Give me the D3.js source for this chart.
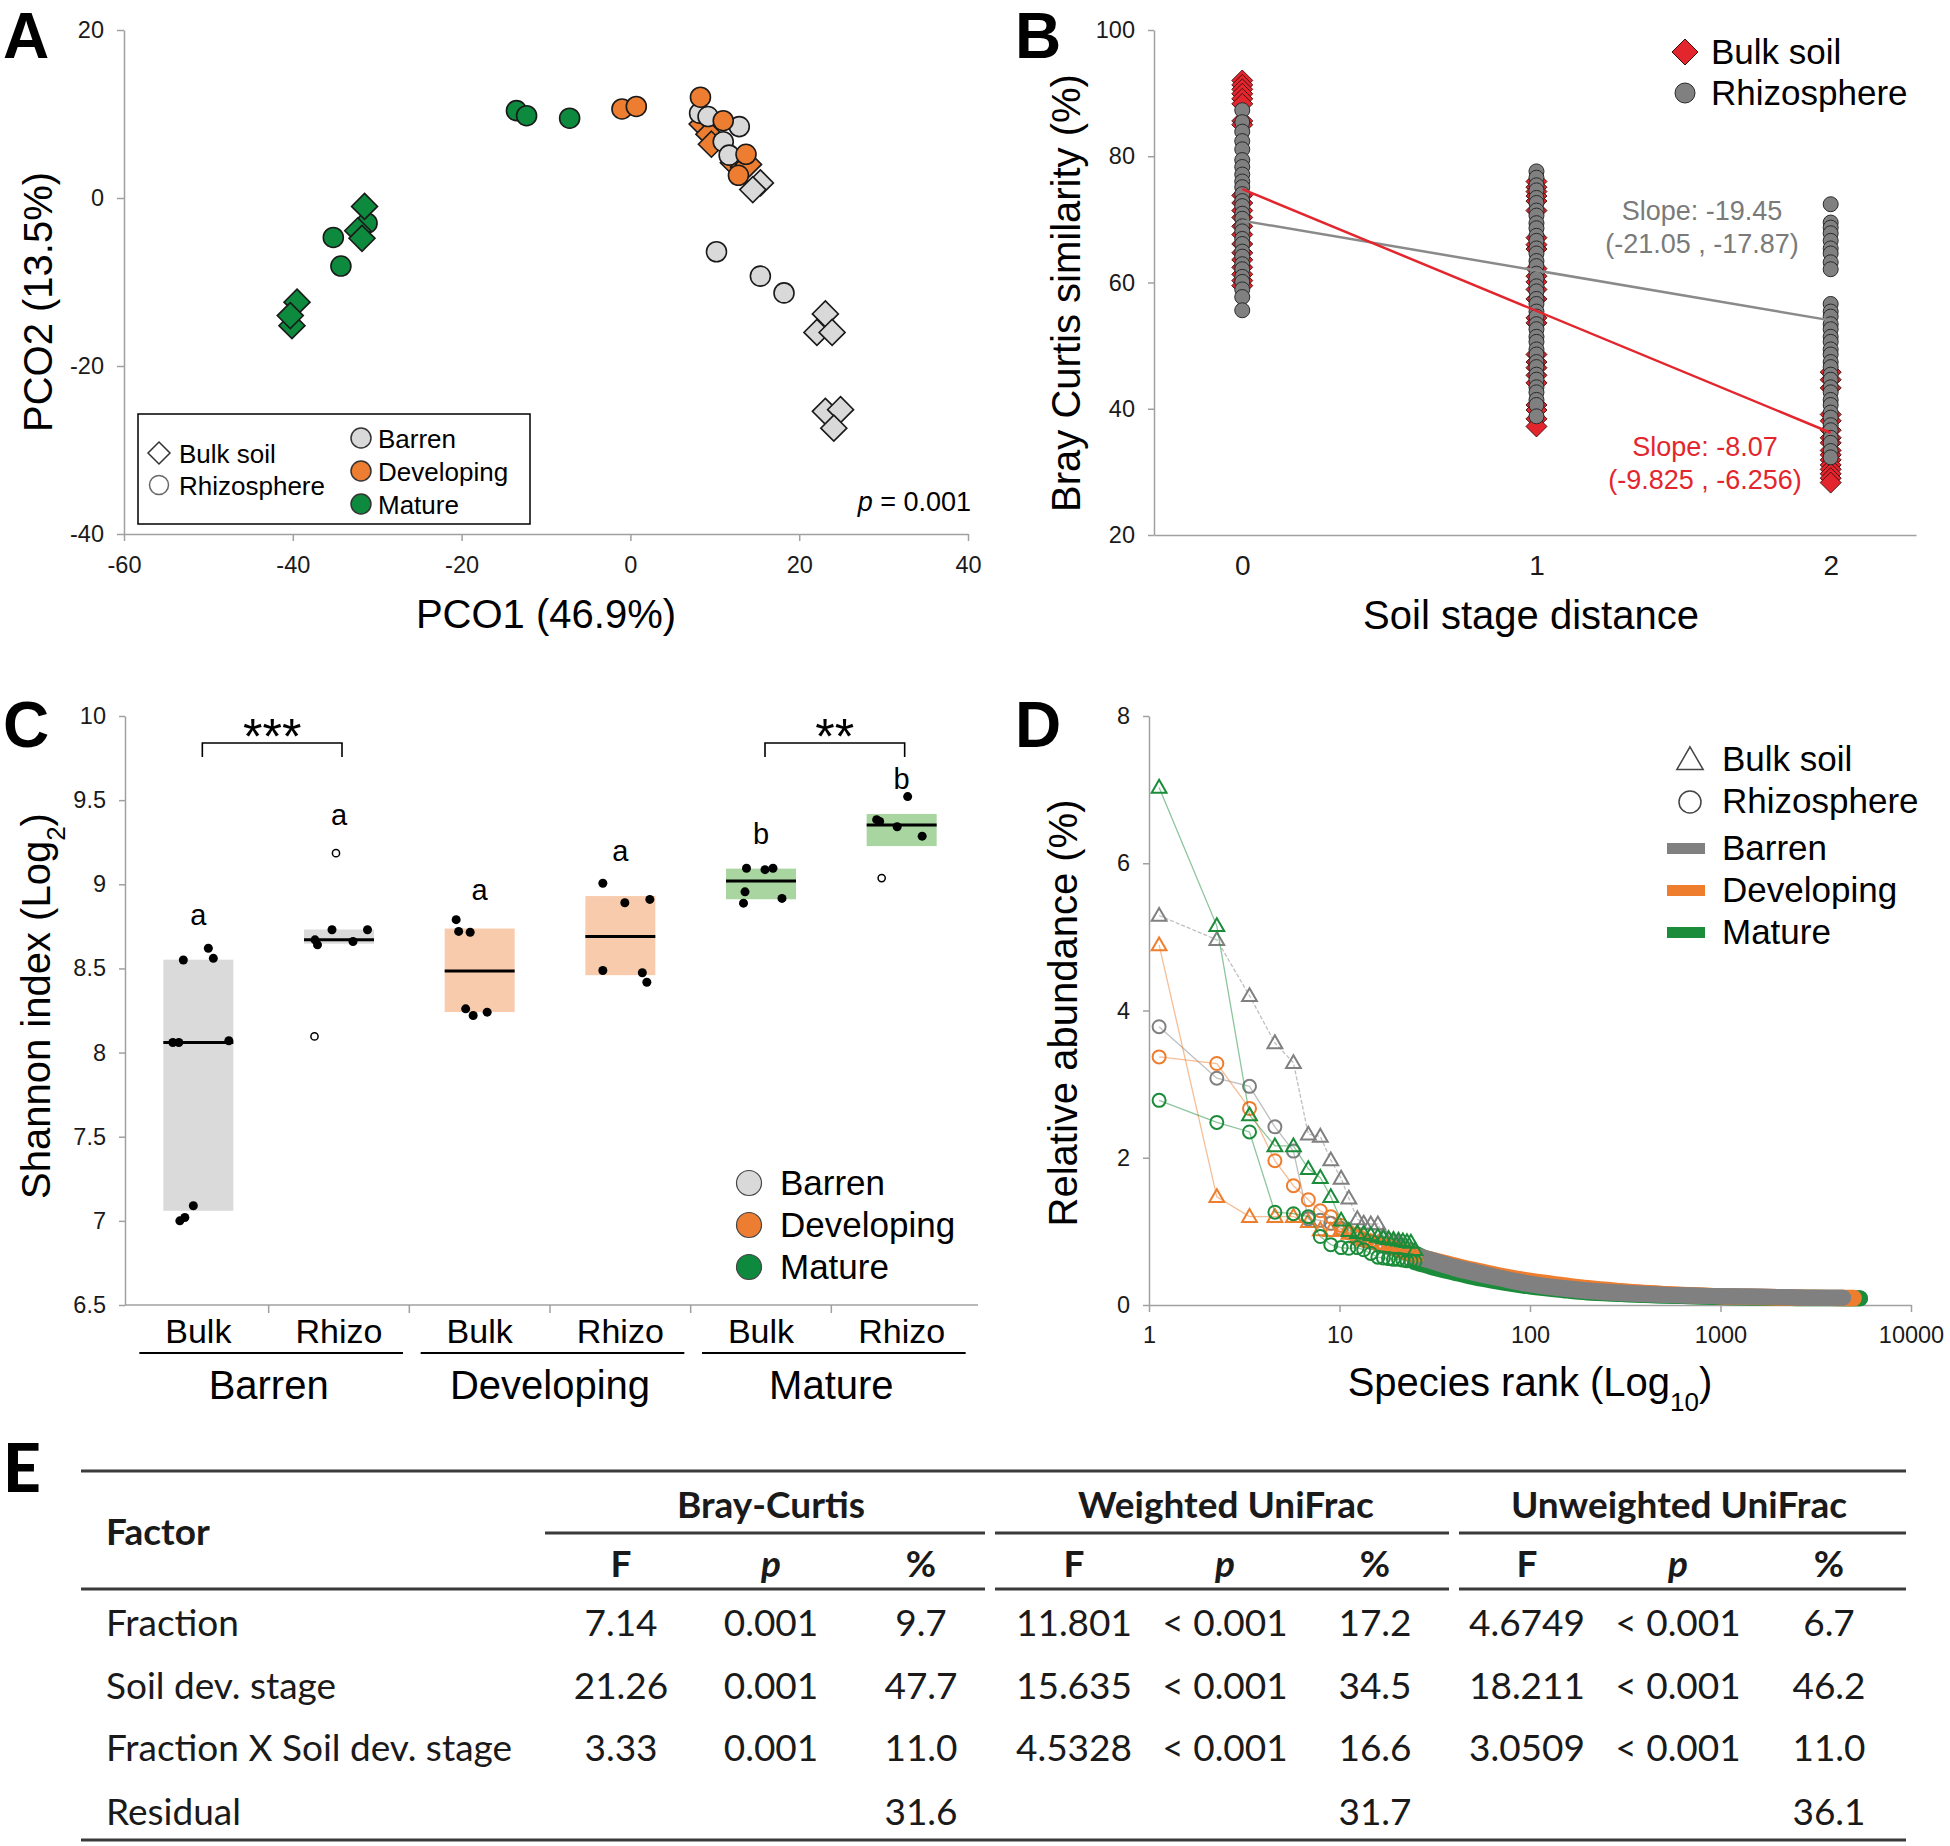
<!DOCTYPE html>
<html><head><meta charset="utf-8">
<script src="https://cdn.jsdelivr.net/npm/d3@7"></script>
<style>body{margin:0;background:#fff}</style>
</head><body>
<script>
// ================= DATA =================
// ---- Panel A : PCO ordination ----
const pcoTicksX = [-60, -40, -20, 0, 20, 40];
const pcoTicksY = [-40, -20, 0, 20];
const pcoBarrenBulk  = [[15.4,1.8],[14.5,1.0],[23.1,-13.8],[22.1,-16.0],[23.9,-16.0],[23.1,-25.4],[24.9,-25.2],[24.1,-27.4]];
const pcoBarrenRhizo = [[8.2,10.1],[9.2,9.7],[12.9,8.5],[11.0,6.7],[11.7,5.1],[10.2,-6.4],[15.4,-9.3],[18.2,-11.3]];
const pcoDevBulk     = [[8.5,8.8],[9.3,7.6],[9.6,6.4],[12.2,4.2],[13.4,3.7],[14.0,4.0]];
const pcoDevRhizo    = [[-1.0,10.6],[0.7,10.9],[8.3,12.0],[11.0,9.2],[13.7,5.2],[12.8,2.7]];
const pcoMatBulk     = [[-31.5,-1.0],[-32.3,-3.9],[-31.8,-4.8],[-39.5,-12.4],[-40.1,-15.2],[-40.3,-14.0]];
const pcoMatRhizo    = [[-13.5,10.4],[-12.3,9.8],[-7.2,9.5],[-35.2,-4.7],[-34.3,-8.1],[-31.2,-3.0]];

// ---- Panel B : Bray Curtis similarity vs soil stage distance ----
const bcTicksY = [20, 40, 60, 80, 100];
const bcTicksX = [0, 1, 2];
const bcBulk0 = [92.0,91.3,90.6,89.9,89.1,88.3,85.6,85.0,73.8,72.6,71.4,70.3,68.9,67.6,66.1,64.7,63.6,62.4,61.3,60.3,59.5];
const bcBulk1 = [76.0,75.1,74.4,73.7,72.9,71.4,67.1,66.0,65.3,62.2,61.0,60.1,58.9,57.4,54.4,53.6,48.6,47.4,46.5,45.3,44.1,40.6,39.8,38.4,37.2];
const bcBulk2 = [45.8,44.6,43.3,39.1,38.1,36.6,35.4,34.6,33.4,32.7,31.9,31.1,30.4,29.7,29.0,28.3];
const bcRhizo0 = [87.3,85.4,83.9,82.4,81.1,79.4,78.3,77.1,76.0,75.1,74.0,72.9,72.1,70.9,70.1,68.9,68.1,66.9,66.1,64.9,64.1,62.9,62.1,60.9,60.1,58.9,57.7,55.6];
const bcRhizo1 = [77.6,76.6,75.4,74.6,73.4,72.6,71.4,70.6,69.4,68.6,67.4,66.6,65.4,64.6,63.4,62.6,61.4,60.6,59.4,58.6,57.4,56.6,55.4,54.6,53.4,52.6,51.4,50.6,49.4,48.6,47.4,46.6,45.4,44.6,43.4,42.6,41.4,40.6,38.8];
const bcRhizo2 = [72.4,69.5,68.7,67.8,66.6,65.4,64.6,63.2,62.1,56.6,55.4,54.6,53.4,52.6,51.4,50.6,49.4,48.6,47.4,46.6,45.4,44.6,43.4,42.6,41.4,40.6,39.4,38.6,37.4,36.6,35.4,34.6,33.3,32.3];
const bcFitBulk  = [74.8, 36.2];   // fitted value at distance 0 and 2
const bcFitRhizo = [69.8, 54.0];
const bcSlopeRhizo = ["Slope: -19.45", "(-21.05 , -17.87)"];
const bcSlopeBulk  = ["Slope: -8.07", "(-9.825 , -6.256)"];

// ---- Panel C : Shannon index ----
const stages = ["Barren", "Developing", "Mature"];
const fractions = ["Bulk", "Rhizo"];
const shCats = ["Barren-Bulk","Barren-Rhizo","Developing-Bulk","Developing-Rhizo","Mature-Bulk","Mature-Rhizo"];
const shTicks = [6.5, 7, 7.5, 8, 8.5, 9, 9.5, 10];
const shLow    = [7.06, 8.647, 8.241, 8.46, 8.911, 9.227];
const shHigh   = [8.552, 8.731, 8.737, 8.93, 9.093, 9.418];
const shMedian = [8.06, 8.67, 8.485, 8.69, 9.02, 9.353];
const shLetters = ["a", "a", "a", "a", "b", "b"];
const shLetterY = [8.76, 9.35, 8.905, 9.14, 9.24, 9.566];
const shPoints = [
  [8.55, 8.62, 8.56, 8.06, 8.06, 8.07, 7.09, 7.02, 7.0],
  [8.73, 8.73, 8.67, 8.64, 8.66],
  [8.79, 8.72, 8.715, 8.26, 8.22, 8.24],
  [9.006, 8.89, 8.91, 8.488, 8.474, 8.418],
  [9.095, 9.087, 9.095, 8.955, 8.916, 8.888],
  [9.521, 9.384, 9.373, 9.342, 9.286]
];
const shJitter = [
  [-15, 10, 15, -25.5, -19.5, 30.5, -5, -13.5, -18.5],
  [-7, 28.5, -24, -21.5, 14],
  [-23.5, -21, -9.5, -14, -6.5, 7.5],
  [-17.5, 4.5, 29.5, -17.5, 22, 26.5],
  [-14.5, 4, 12, -16, 21, -17.5],
  [6, -25, -22, -4.5, 20.5]
];
const shOutliers = [[], [9.185, 8.096], [], [], [], [9.037]];
const shOutJitter = [[], [-3, -24.5], [], [], [], [-20]];
const shBrackets = [{from: 0, to: 1, label: "***"}, {from: 4, to: 5, label: "**"}];
const shBracketY = [9.84, 9.756];

// ---- Panel D : rank abundance ----
const rankTicks = [1, 10, 100, 1000, 10000];
const abTicks = [0, 2, 4, 6, 8];
const rankPos = [1.13,2.27,3.37,4.58,5.73,6.86,7.93,9.0,10.2,11.2,12.4,13.4,14.6,15.9,17.0,18.1,19.2,20.4,21.5,22.6,23.7,24.9];
const abBarrenBulk  = [5.29,4.96,4.20,3.56,3.29,2.32,2.29,1.97,1.72,1.45,1.17,1.11,1.10,1.10,0.95,0.90,0.86,0.83,0.80,0.78,0.75,0.72];
const abBarrenRhizo = [3.78,3.08,2.97,2.42,2.09,1.17,1.15,1.11,1.04,0.98,0.92,0.88,0.85,0.82,0.80,0.78,0.76,0.74,0.72,0.70,0.68,0.66];
const abDevBulk     = [4.89,1.47,1.20,1.20,1.20,1.13,1.02,1.01,1.03,0.97,0.92,0.88,0.86,0.84,0.82,0.80,0.78,0.76,0.74,0.72,0.70,0.68];
const abDevRhizo    = [3.37,3.28,2.67,1.96,1.62,1.43,1.28,1.20,1.08,0.99,0.95,0.90,0.87,0.84,0.81,0.79,0.77,0.75,0.73,0.71,0.69,0.67];
const abMatBulk     = [7.03,5.15,2.58,2.16,2.16,1.85,1.73,1.47,1.15,1.01,0.98,0.97,0.95,0.93,0.91,0.90,0.89,0.88,0.87,0.86,0.85,0.75];
const abMatRhizo    = [2.78,2.48,2.35,1.26,1.24,1.20,0.93,0.82,0.78,0.77,0.78,0.75,0.70,0.65,0.64,0.63,0.62,0.62,0.61,0.60,0.60,0.59];
const tailRanksBarren = [24.9,30,40,50,70,100,150,200,300,500,1000,2000,3000,4400];
const tailRanksDev    = [24.9,30,40,50,70,100,150,200,300,500,1000,2000,3000,5000];
const tailRanksMat    = [24.9,30,40,50,70,100,150,200,300,500,1000,2000,3000,5400];
const tailBarrenBulk  = [0.68,0.62,0.52,0.46,0.37,0.29,0.23,0.20,0.17,0.14,0.12,0.11,0.10,0.10];
const tailBarrenRhizo = [0.66,0.60,0.50,0.44,0.36,0.28,0.22,0.19,0.16,0.14,0.12,0.11,0.10,0.10];
const tailDevBulk     = [0.67,0.62,0.54,0.48,0.40,0.33,0.27,0.23,0.19,0.15,0.12,0.11,0.10,0.10];
const tailDevRhizo    = [0.66,0.61,0.53,0.47,0.39,0.32,0.26,0.22,0.18,0.15,0.12,0.10,0.10,0.09];
const tailMatBulk     = [0.70,0.60,0.48,0.40,0.32,0.26,0.21,0.18,0.15,0.13,0.11,0.10,0.10,0.09];
const tailMatRhizo    = [0.58,0.52,0.44,0.38,0.31,0.25,0.20,0.17,0.15,0.13,0.11,0.10,0.09,0.09];

// ---- Panel E : PERMANOVA table ----
const tblMetrics = ["Bray-Curtis", "Weighted UniFrac", "Unweighted UniFrac"];
const tblSubCols = ["F", "p", "%"];
const tblFactors = ["Fraction", "Soil dev. stage", "Fraction X Soil dev. stage", "Residual"];
const tblBrayCurtis = [["7.14","0.001","9.7"],["21.26","0.001","47.7"],["3.33","0.001","11.0"],["","","31.6"]];
const tblWeighted   = [["11.801","< 0.001","17.2"],["15.635","< 0.001","34.5"],["4.5328","< 0.001","16.6"],["","","31.7"]];
const tblUnweighted = [["4.6749","< 0.001","6.7"],["18.211","< 0.001","46.2"],["3.0509","< 0.001","11.0"],["","","36.1"]];

// ================= STYLE =================
const SANS = "'Liberation Sans', Arial, Helvetica, sans-serif";
const TAB = "Lato, 'Open Sans', sans-serif";
const C_BAR = "#d9d9d9", C_DEV = "#ed7d31", C_MAT = "#0d8a3e";
const C_BAR_D = "#808080", C_DEV_D = "#ee7d2d", C_MAT_D = "#1b8c3a";
const AX = "#a0a0a0";
const plain = d => String(d);

const svg = d3.select("body").append("svg").attr("width", 1950).attr("height", 1846)
  .attr("font-family", SANS);
svg.append("rect").attr("width", 1950).attr("height", 1846).attr("fill", "#fff");

function styleAxis(g, fs) {
  g.attr("font-family", SANS).attr("font-size", fs || 23.5);
  g.select(".domain").attr("stroke", AX).attr("stroke-width", 1.5);
  g.selectAll(".tick line").attr("stroke", AX).attr("stroke-width", 1.5);
  g.selectAll(".tick text").attr("fill", "#1a1a1a");
}
const diamond = s => `M0,${-s}L${s},0L0,${s}L${-s},0Z`;
function panelLetter(t, x, y) {
  svg.append("text").attr("x", x).attr("y", y).text(t)
    .attr("font-size", 64).attr("font-weight", "bold").attr("fill", "#000");
}
function vTitle(x, y, parts, fs) {
  const t = svg.append("text").attr("transform", `translate(${x},${y}) rotate(-90)`)
    .attr("text-anchor", "middle").attr("font-size", fs).attr("fill", "#000");
  parts.forEach(p => {
    const s = t.append("tspan").text(p.t);
    if (p.sub) s.attr("font-size", fs * 0.65).attr("baseline-shift", "sub");
  });
  return t;
}
function hTitle(x, y, parts, fs) {
  const t = svg.append("text").attr("x", x).attr("y", y)
    .attr("text-anchor", "middle").attr("font-size", fs).attr("fill", "#000");
  parts.forEach(p => {
    const s = t.append("tspan").text(p.t);
    if (p.sub) s.attr("font-size", fs * 0.65).attr("baseline-shift", "sub");
  });
  return t;
}

// ================= PANEL A =================
{
  const x = d3.scaleLinear().domain([-60, 40]).range([124, 968]);
  const y = d3.scaleLinear().domain([-40, 20]).range([534, 30]);
  svg.append("g").attr("transform", "translate(124,0)")
    .call(d3.axisLeft(y).tickValues(pcoTicksY).tickFormat(plain).tickSize(7).tickSizeOuter(0).tickPadding(13)).call(styleAxis);
  svg.append("g").attr("transform", "translate(0,534)")
    .call(d3.axisBottom(x).tickValues(pcoTicksX).tickFormat(plain).tickSize(7).tickSizeOuter(0).tickPadding(15)).call(styleAxis);

  const groups = [
    {d: pcoMatRhizo, shape: "c", fill: C_MAT},
    {d: pcoMatBulk, shape: "d", fill: C_MAT},
    {d: pcoBarrenBulk, shape: "d", fill: C_BAR},
    {d: pcoDevBulk, shape: "d", fill: C_DEV},
    {d: pcoBarrenRhizo, shape: "c", fill: C_BAR},
    {d: pcoDevRhizo, shape: "c", fill: C_DEV}
  ];
  const gp = svg.append("g");
  groups.forEach(gr => {
    gr.d.forEach(p => {
      if (gr.shape === "c") {
        gp.append("circle").attr("cx", x(p[0])).attr("cy", y(p[1])).attr("r", 10)
          .attr("fill", gr.fill).attr("stroke", "#1a1a1a").attr("stroke-width", 1.6);
      } else {
        gp.append("path").attr("d", diamond(13)).attr("transform", `translate(${x(p[0])},${y(p[1])})`)
          .attr("fill", gr.fill).attr("stroke", "#1a1a1a").attr("stroke-width", 1.6);
      }
    });
  });
  // legend
  const lg = svg.append("g");
  lg.append("rect").attr("x", 138).attr("y", 414).attr("width", 392).attr("height", 110)
    .attr("fill", "#fff").attr("stroke", "#000").attr("stroke-width", 1.5);
  lg.append("path").attr("d", diamond(11)).attr("transform", "translate(159,453)")
    .attr("fill", "#fff").attr("stroke", "#333").attr("stroke-width", 1.5);
  lg.append("circle").attr("cx", 159).attr("cy", 485).attr("r", 9.5)
    .attr("fill", "#fff").attr("stroke", "#666").attr("stroke-width", 1.5);
  lg.append("text").attr("x", 179).attr("y", 454).attr("dy", "0.35em").attr("font-size", 26).text("Bulk soil");
  lg.append("text").attr("x", 179).attr("y", 486).attr("dy", "0.35em").attr("font-size", 26).text("Rhizosphere");
  [[C_BAR, "Barren"], [C_DEV, "Developing"], [C_MAT, "Mature"]].forEach((s, i) => {
    lg.append("circle").attr("cx", 361).attr("cy", 438 + i * 33).attr("r", 10)
      .attr("fill", s[0]).attr("stroke", "#333").attr("stroke-width", 1.5);
    lg.append("text").attr("x", 378).attr("y", 439 + i * 33).attr("dy", "0.35em").attr("font-size", 26).text(s[1]);
  });
  const pt = svg.append("text").attr("x", 971).attr("y", 511).attr("text-anchor", "end").attr("font-size", 27);
  pt.append("tspan").attr("font-style", "italic").text("p");
  pt.append("tspan").text(" = 0.001");

  vTitle(52, 302, [{t: "PCO2 (13.5%)"}], 40);
  hTitle(546, 628, [{t: "PCO1 (46.9%)"}], 40);
  panelLetter("A", 3, 58);
}

// ================= PANEL B =================
{
  const x = d3.scaleLinear().domain([-0.3, 2.29]).range([1154, 1916]);
  const y = d3.scaleLinear().domain([20, 100]).range([535, 30]);
  svg.append("g").attr("transform", "translate(1154,0)")
    .call(d3.axisLeft(y).tickValues(bcTicksY).tickFormat(plain).tickSize(6).tickSizeOuter(0).tickPadding(13)).call(styleAxis);
  svg.append("g").attr("transform", "translate(0,535)")
    .call(d3.axisBottom(x).tickValues(bcTicksX).tickFormat(plain).tickSize(0).tickSizeOuter(0).tickPadding(20)).call(g => styleAxis(g, 28));

  const gp = svg.append("g");
  [bcBulk0, bcBulk1, bcBulk2].forEach((col, i) => {
    col.forEach(v => gp.append("path").attr("d", diamond(10.5))
      .attr("transform", `translate(${x(i)},${y(v)})`)
      .attr("fill", "#e3262d").attr("stroke", "#3b0a0a").attr("stroke-width", 0.9));
  });
  [bcRhizo0, bcRhizo1, bcRhizo2].forEach((col, i) => {
    col.forEach(v => gp.append("circle").attr("cx", x(i)).attr("cy", y(v)).attr("r", 7.5)
      .attr("fill", "#808080").attr("stroke", "#2a2a2a").attr("stroke-width", 1));
  });
  svg.append("line").attr("x1", x(0)).attr("x2", x(2)).attr("y1", y(bcFitRhizo[0])).attr("y2", y(bcFitRhizo[1]))
    .attr("stroke", "#8a8a8a").attr("stroke-width", 2.5);
  svg.append("line").attr("x1", x(0)).attr("x2", x(2)).attr("y1", y(bcFitBulk[0])).attr("y2", y(bcFitBulk[1]))
    .attr("stroke", "#e3262d").attr("stroke-width", 2.5);

  bcSlopeRhizo.forEach((t, i) => svg.append("text").attr("x", 1702).attr("y", 220 + i * 33)
    .attr("text-anchor", "middle").attr("font-size", 27).attr("fill", "#7a7a7a").text(t));
  bcSlopeBulk.forEach((t, i) => svg.append("text").attr("x", 1705).attr("y", 456 + i * 33)
    .attr("text-anchor", "middle").attr("font-size", 27).attr("fill", "#e3262d").text(t));

  svg.append("path").attr("d", diamond(13)).attr("transform", "translate(1685,52)")
    .attr("fill", "#e3262d").attr("stroke", "#3b0a0a").attr("stroke-width", 1);
  svg.append("circle").attr("cx", 1685).attr("cy", 93).attr("r", 10)
    .attr("fill", "#808080").attr("stroke", "#2a2a2a").attr("stroke-width", 1);
  svg.append("text").attr("x", 1711).attr("y", 52).attr("dy", "0.35em").attr("font-size", 35).text("Bulk soil");
  svg.append("text").attr("x", 1711).attr("y", 93).attr("dy", "0.35em").attr("font-size", 35).text("Rhizosphere");

  vTitle(1080, 293, [{t: "Bray Curtis similarity (%)"}], 40);
  hTitle(1531, 629, [{t: "Soil stage distance"}], 40);
  panelLetter("B", 1015, 58);
}

// ================= PANEL C =================
{
  const x = d3.scaleBand().domain(shCats).range([128, 972]);
  const y = d3.scaleLinear().domain([6.5, 10]).range([1305, 716]);
  const cx = i => x(shCats[i]) + x.bandwidth() / 2;
  svg.append("g").attr("transform", "translate(125,0)")
    .call(d3.axisLeft(y).tickValues(shTicks).tickFormat(plain).tickSize(6).tickSizeOuter(0).tickPadding(13)).call(styleAxis);
  const base = svg.append("g");
  base.append("line").attr("x1", 125).attr("x2", 978).attr("y1", 1305).attr("y2", 1305).attr("stroke", AX).attr("stroke-width", 1.5);
  shCats.forEach((c, i) => {
    if (i > 0) base.append("line").attr("x1", x(c)).attr("x2", x(c)).attr("y1", 1305).attr("y2", 1313).attr("stroke", AX).attr("stroke-width", 1.5);
  });
  const fills = ["#dadada", "#dadada", "#f8cbad", "#f8cbad", "#a9d5a0", "#a9d5a0"];
  shCats.forEach((c, i) => {
    svg.append("rect").attr("x", cx(i) - 35).attr("width", 70)
      .attr("y", y(shHigh[i])).attr("height", y(shLow[i]) - y(shHigh[i])).attr("fill", fills[i]);
    svg.append("line").attr("x1", cx(i) - 35).attr("x2", cx(i) + 35)
      .attr("y1", y(shMedian[i])).attr("y2", y(shMedian[i])).attr("stroke", "#000").attr("stroke-width", 3);
    shPoints[i].forEach((v, j) => svg.append("circle").attr("cx", cx(i) + shJitter[i][j]).attr("cy", y(v)).attr("r", 4.5).attr("fill", "#000"));
    shOutliers[i].forEach((v, j) => svg.append("circle").attr("cx", cx(i) + shOutJitter[i][j]).attr("cy", y(v)).attr("r", 3.6)
      .attr("fill", "#fff").attr("stroke", "#000").attr("stroke-width", 1.5));
    svg.append("text").attr("x", cx(i)).attr("y", y(shLetterY[i])).attr("text-anchor", "middle").attr("font-size", 29).text(shLetters[i]);
    svg.append("text").attr("x", cx(i)).attr("y", 1343).attr("text-anchor", "middle").attr("font-size", 34).text(fractions[i % 2]);
  });
  stages.forEach((s, k) => {
    const a = cx(2 * k) - 59, b = cx(2 * k + 1) + 64;
    svg.append("line").attr("x1", a).attr("x2", b).attr("y1", 1353).attr("y2", 1353).attr("stroke", "#000").attr("stroke-width", 2);
    svg.append("text").attr("x", (cx(2 * k) + cx(2 * k + 1)) / 2).attr("y", 1399).attr("text-anchor", "middle").attr("font-size", 40).text(s);
  });
  shBrackets.forEach((b, i) => {
    const x1 = cx(b.from) + 4, x2 = cx(b.to) + 3, yt = y(shBracketY[0]), yb = y(shBracketY[1]);
    svg.append("path").attr("d", `M${x1},${yb}V${yt}H${x2}V${yb}`).attr("fill", "none").attr("stroke", "#000").attr("stroke-width", 1.6);
    svg.append("text").attr("x", (x1 + x2) / 2).attr("y", 754).attr("text-anchor", "middle").attr("font-size", 50).text(b.label);
  });
  [[C_BAR, "Barren"], [C_DEV, "Developing"], [C_MAT, "Mature"]].forEach((s, i) => {
    svg.append("circle").attr("cx", 749).attr("cy", 1183 + i * 42).attr("r", 12.5)
      .attr("fill", s[0]).attr("stroke", "#444").attr("stroke-width", 1.2);
    svg.append("text").attr("x", 780).attr("y", 1183 + i * 42).attr("dy", "0.35em").attr("font-size", 35).text(s[1]);
  });
  vTitle(50, 1006, [{t: "Shannon index  (Log"}, {t: "2", sub: true}, {t: ")"}], 40);
  panelLetter("C", 3, 747);
}

// ================= PANEL D =================
{
  const x = d3.scaleLog().domain([1, 10000]).range([1149, 1911]);
  const y = d3.scaleLinear().domain([0, 8]).range([1305, 716]);
  svg.append("g").attr("transform", "translate(1149,0)")
    .call(d3.axisLeft(y).tickValues(abTicks).tickFormat(plain).tickSize(6).tickSizeOuter(0).tickPadding(13)).call(styleAxis);
  svg.append("g").attr("transform", "translate(0,1305)")
    .call(d3.axisBottom(x).tickValues(rankTicks).tickFormat(plain).tickSize(7).tickSizeOuter(0).tickPadding(14)).call(styleAxis);

  const series = [
    {head: abMatRhizo, tail: tailMatRhizo, tr: tailRanksMat, col: C_MAT_D, shape: "c"},
    {head: abMatBulk, tail: tailMatBulk, tr: tailRanksMat, col: C_MAT_D, shape: "t"},
    {head: abDevRhizo, tail: tailDevRhizo, tr: tailRanksDev, col: C_DEV_D, shape: "c"},
    {head: abDevBulk, tail: tailDevBulk, tr: tailRanksDev, col: C_DEV_D, shape: "t"},
    {head: abBarrenRhizo, tail: tailBarrenRhizo, tr: tailRanksBarren, col: C_BAR_D, shape: "c"},
    {head: abBarrenBulk, tail: tailBarrenBulk, tr: tailRanksBarren, col: C_BAR_D, shape: "t"}
  ];
  const line = d3.line().x(d => x(d[0])).y(d => y(d[1]));
  // dense tails
  series.forEach(s => {
    const pts = s.tr.map((r, i) => [r, s.tail[i]]);
    svg.append("path").attr("d", line.curve(d3.curveMonotoneX)(pts)).attr("fill", "none")
      .attr("stroke", s.col).attr("stroke-width", 16).attr("stroke-linecap", "round");
  });
  line.curve(d3.curveLinear);
  const tri = d3.symbol().type(d3.symbolTriangle).size(95);
  const order = [4, 5, 2, 3, 0, 1];
  order.forEach(k => {
    const s = series[k];
    const pts = s.head.map((v, i) => [rankPos[i], v]);
    svg.append("path").attr("d", line(pts)).attr("fill", "none").attr("stroke", s.col)
      .attr("stroke-width", 1.3).attr("stroke-opacity", 0.5)
      .attr("stroke-dasharray", s.col === C_BAR_D && s.shape === "t" ? "4,2" : null);
    pts.forEach(p => {
      if (s.shape === "c") {
        svg.append("circle").attr("cx", x(p[0])).attr("cy", y(p[1])).attr("r", 6.5)
          .attr("fill", "none").attr("stroke", s.col).attr("stroke-width", 2);
      } else {
        svg.append("path").attr("d", tri()).attr("transform", `translate(${x(p[0])},${y(p[1]) + 1})`)
          .attr("fill", "none").attr("stroke", s.col).attr("stroke-width", 2);
      }
    });
  });
  // legend
  svg.append("path").attr("d", d3.symbol().type(d3.symbolTriangle).size(300)()).attr("transform", "translate(1690,762)")
    .attr("fill", "none").attr("stroke", "#444").attr("stroke-width", 1.5);
  svg.append("circle").attr("cx", 1690).attr("cy", 802).attr("r", 11).attr("fill", "none").attr("stroke", "#444").attr("stroke-width", 1.5);
  svg.append("text").attr("x", 1722).attr("y", 759).attr("dy", "0.35em").attr("font-size", 35).text("Bulk soil");
  svg.append("text").attr("x", 1722).attr("y", 801).attr("dy", "0.35em").attr("font-size", 35).text("Rhizosphere");
  [[C_BAR_D, "Barren"], [C_DEV_D, "Developing"], [C_MAT_D, "Mature"]].forEach((s, i) => {
    svg.append("rect").attr("x", 1667).attr("y", 843 + i * 42).attr("width", 38).attr("height", 11).attr("fill", s[0]);
    svg.append("text").attr("x", 1722).attr("y", 848 + i * 42).attr("dy", "0.35em").attr("font-size", 35).text(s[1]);
  });
  vTitle(1077, 1013, [{t: "Relative abundance (%)"}], 40);
  hTitle(1530, 1396, [{t: "Species rank (Log"}, {t: "10", sub: true}, {t: ")"}], 40);
  panelLetter("D", 1015, 747);
}

// ================= PANEL E =================
{
  const FS = 37;
  const g = svg.append("g").attr("font-family", TAB).attr("fill", "#1a1a1a");
  const colX = [[621, 771, 921], [1074, 1225, 1375], [1527, 1678, 1829]];
  const groupX = [771, 1226, 1679];
  const segs = [[545, 985], [995, 1449], [1459, 1906]];
  const hdrSegs = [[81, 985], [995, 1449], [1459, 1906]];
  const rowY = [1623, 1686, 1748, 1812];
  const rule = (x1, x2, yy) => g.append("line").attr("x1", x1).attr("x2", x2).attr("y1", yy).attr("y2", yy)
    .attr("stroke", "#3a3a3a").attr("stroke-width", 3);
  rule(81, 1906, 1471);
  rule(81, 1906, 1840);
  segs.forEach(s => rule(s[0], s[1], 1533));
  hdrSegs.forEach(s => rule(s[0], s[1], 1589));
  g.append("text").attr("x", 106).attr("y", 1532).attr("dy", "0.35em").attr("font-size", FS).attr("font-weight", "bold").text("Factor");
  tblMetrics.forEach((m, k) => {
    g.append("text").attr("x", groupX[k]).attr("y", 1505).attr("dy", "0.35em").attr("text-anchor", "middle")
      .attr("font-size", FS).attr("font-weight", "bold").text(m);
    tblSubCols.forEach((c, j) => g.append("text").attr("x", colX[k][j]).attr("y", 1564).attr("dy", "0.35em")
      .attr("text-anchor", "middle").attr("font-size", FS).attr("font-weight", "bold")
      .attr("font-style", c === "p" ? "italic" : null).text(c));
  });
  const tables = [tblBrayCurtis, tblWeighted, tblUnweighted];
  tblFactors.forEach((f, r) => {
    g.append("text").attr("x", 106).attr("y", rowY[r]).attr("dy", "0.35em").attr("font-size", FS).text(f);
    tables.forEach((t, k) => t[r].forEach((v, j) => g.append("text").attr("x", colX[k][j]).attr("y", rowY[r])
      .attr("dy", "0.35em").attr("text-anchor", "middle").attr("font-size", FS).text(v)));
  });
  svg.append("text").attr("x", 3).attr("y", 1492).text("E").attr("font-family", TAB)
    .attr("font-size", 66).attr("font-weight", 900);
}
</script>
</body></html>
